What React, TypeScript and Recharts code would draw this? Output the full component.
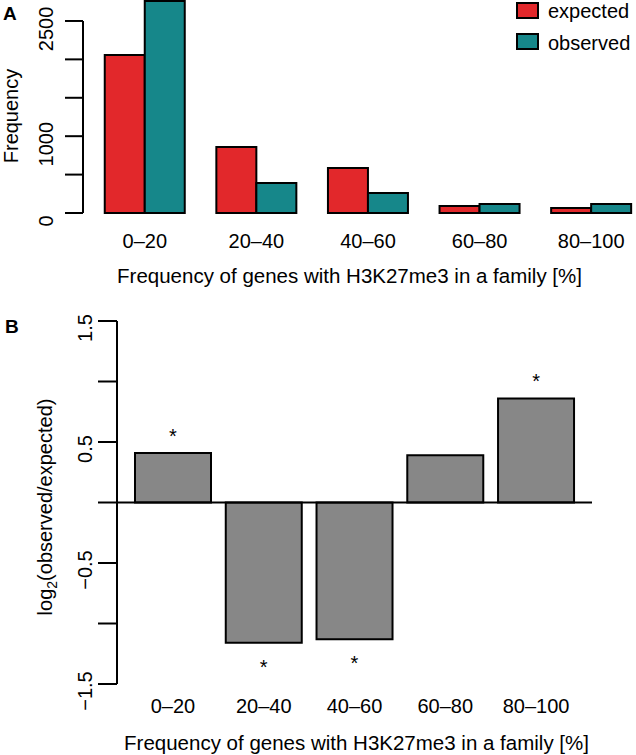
import React from 'react';
import { BarChart, Bar, XAxis, YAxis, Legend, ReferenceLine, LabelList } from 'recharts';

const categories = ['0–20', '20–40', '40–60', '60–80', '80–100'];
const expectedCounts = [2057, 859, 586, 91, 65];
const observedCounts = [2760, 390, 262, 117, 117];
const logRatio = [0.41, -1.16, -1.13, 0.39, 0.86];
const significance = ['*', '*', '*', '', '*'];
const freqTicks = [0, 500, 1000, 1500, 2000, 2500];
const freqTickLabels = [0, 1000, 2500];
const ratioTicks = [-1.5, -1, -0.5, 0, 0.5, 1, 1.5];
const ratioTickLabels = [-1.5, -0.5, 0.5, 1.5];

const FONT = '"Liberation Sans", Arial, Helvetica, sans-serif';
const RED = '#E2282B';
const TEAL = '#16878A';
const GRAY = '#878787';

const dataA = categories.map((c, i) => ({ category: c, expected: expectedCounts[i], observed: observedCounts[i] }));
const dataB = categories.map((c, i) => ({ category: c, ratio: logRatio[i], sig: significance[i] }));

const fmtRatio = (v: number) => (v < 0 ? '−' : '') + Math.abs(v).toFixed(1);

const FreqTick = (props: any) => {
  const { x, y, payload } = props;
  if (!freqTickLabels.includes(payload.value)) return <g />;
  const bx = x - 12;
  const cy = y + 8;
  return (
    <text x={bx} y={cy} transform={`rotate(-90, ${bx}, ${cy})`} textAnchor="middle" fontSize={20} fontFamily={FONT} fill="#000">
      {String(payload.value)}
    </text>
  );
};

const RatioTick = (props: any) => {
  const { x, y, payload } = props;
  if (!ratioTickLabels.includes(payload.value)) return <g />;
  const bx = x - 6;
  const cy = y + 7;
  return (
    <text x={bx} y={cy} transform={`rotate(-90, ${bx}, ${cy})`} textAnchor="middle" fontSize={20} fontFamily={FONT} fill="#000">
      {fmtRatio(payload.value)}
    </text>
  );
};

const makeCatTick = (dy: number) => (props: any) => {
  const { x, y, payload } = props;
  return (
    <text x={x} y={y + dy} textAnchor="middle" fontSize={20} fontFamily={FONT} fill="#000">
      {payload.value}
    </text>
  );
};
const CatTickA = makeCatTick(35);
const CatTickB = makeCatTick(29);

const YLabelA = () => (
  <g>
    <text x={3} y={20} fontSize={19} fontWeight="bold" fontFamily={FONT} fill="#000">A</text>
    <text x={18} y={116} transform="rotate(-90, 18, 116)" textAnchor="middle" fontSize={20} fontFamily={FONT} fill="#000">
      Frequency
    </text>
  </g>
);

const YLabelB = () => (
  <g>
    <text x={5} y={33} fontSize={19} fontWeight="bold" fontFamily={FONT} fill="#000">B</text>
    <text x={52} y={207} transform="rotate(-90, 52, 207)" textAnchor="middle" fontSize={20} fontFamily={FONT} fill="#000">
      log<tspan dy={5} fontSize={14}>2</tspan><tspan dy={-5}>(observed/expected)</tspan>
    </text>
  </g>
);

const XTitleA = () => (
  <text x={349.5} y={282.5} textAnchor="middle" fontSize={20.5} fontFamily={FONT} fill="#000">
    Frequency of genes with H3K27me3 in a family [%]
  </text>
);

const XTitleB = () => (
  <text x={356.5} y={450} textAnchor="middle" fontSize={20.5} fontFamily={FONT} fill="#000">
    Frequency of genes with H3K27me3 in a family [%]
  </text>
);

const LegendBox = (props: any) => {
  const payload = props.payload || [];
  return (
    <svg width={122} height={60} style={{ display: 'block' }}>
      {payload.map((entry: any, i: number) => (
        <g key={i}>
          <rect x={3} y={3 + 31 * i} width={21} height={15} fill={entry.color} stroke="#000" strokeWidth={2} />
          <text x={34} y={18 + 32 * i} fontSize={20} fontFamily={FONT} fill="#000">{entry.value}</text>
        </g>
      ))}
    </svg>
  );
};

const Star = (props: any) => {
  const { x, y, width, height, index, value } = props;
  if (!value) return <g />;
  const top = Math.min(y, y + height);
  const bottom = Math.max(y, y + height);
  const positive = logRatio[index] >= 0;
  const cy = positive ? top - 21 : bottom + 20;
  return (
    <text x={x + width / 2} y={cy + 11} textAnchor="middle" fontSize={20} fontFamily={FONT} fill="#000">
      {value}
    </text>
  );
};

export default function App() {
  return (
    <div style={{ position: 'absolute', left: 0, top: 0, width: 636, height: 755, overflow: 'hidden', background: '#fff' }}>
      <div style={{ position: 'absolute', left: 0, top: 0 }}>
        <BarChart
          width={650}
          height={300}
          data={dataA}
          margin={{ top: 0, right: 3, left: 0, bottom: 0 }}
          barCategoryGap={15.75}
          barGap={0}
        >
          <XAxis
            dataKey="category"
            height={87}
            tickLine={false}
            axisLine={false}
            tickSize={0}
            tickMargin={0}
            interval={0}
            padding={{ left: 6, right: 0 }}
            tick={CatTickA}
            label={{ content: XTitleA }}
          />
          <XAxis xAxisId="frame" type="number" domain={[0, 1]} hide />
          <YAxis
            width={83}
            domain={[0, 2773]}
            ticks={freqTicks}
            tickSize={18}
            tickMargin={0}
            tickLine={{ stroke: '#000', strokeWidth: 2 }}
            axisLine={false}
            tick={FreqTick}
            label={{ content: YLabelA }}
          />
          <ReferenceLine
            xAxisId="frame"
            segment={[{ x: 0, y: 0 }, { x: 0, y: 2500 }]}
            stroke="#000"
            strokeWidth={2}
          />
          <Bar dataKey="expected" name="expected" fill={RED} stroke="#000" strokeWidth={2} isAnimationActive={false} />
          <Bar dataKey="observed" name="observed" fill={TEAL} stroke="#000" strokeWidth={2} isAnimationActive={false} />
          <Legend
            layout="horizontal"
            verticalAlign="middle"
            align="center"
            content={LegendBox}
            wrapperStyle={{ position: 'absolute', left: 514, top: 0, width: 122, height: 60 }}
          />
        </BarChart>
      </div>
      <div style={{ position: 'absolute', left: 0, top: 300 }}>
        <BarChart
          width={636}
          height={455}
          data={dataB}
          margin={{ top: 21, right: 44, left: 0, bottom: 0 }}
          barCategoryGap={7.4}
        >
          <XAxis
            dataKey="category"
            height={71}
            tickLine={false}
            axisLine={false}
            tickSize={0}
            tickMargin={0}
            interval={0}
            padding={{ left: 10.6, right: 10.6 }}
            tick={CatTickB}
            label={{ content: XTitleB }}
          />
          <YAxis
            width={117}
            domain={[-1.5, 1.5]}
            ticks={ratioTicks}
            tickSize={19}
            tickMargin={0}
            tickLine={{ stroke: '#000', strokeWidth: 2 }}
            axisLine={{ stroke: '#000', strokeWidth: 2 }}
            tick={RatioTick}
            label={{ content: YLabelB }}
          />
          <Bar dataKey="ratio" fill={GRAY} stroke="#000" strokeWidth={2} isAnimationActive={false}>
            <LabelList dataKey="sig" content={Star} />
          </Bar>
          <ReferenceLine y={0} stroke="#000" strokeWidth={2} />
        </BarChart>
      </div>
    </div>
  );
}
